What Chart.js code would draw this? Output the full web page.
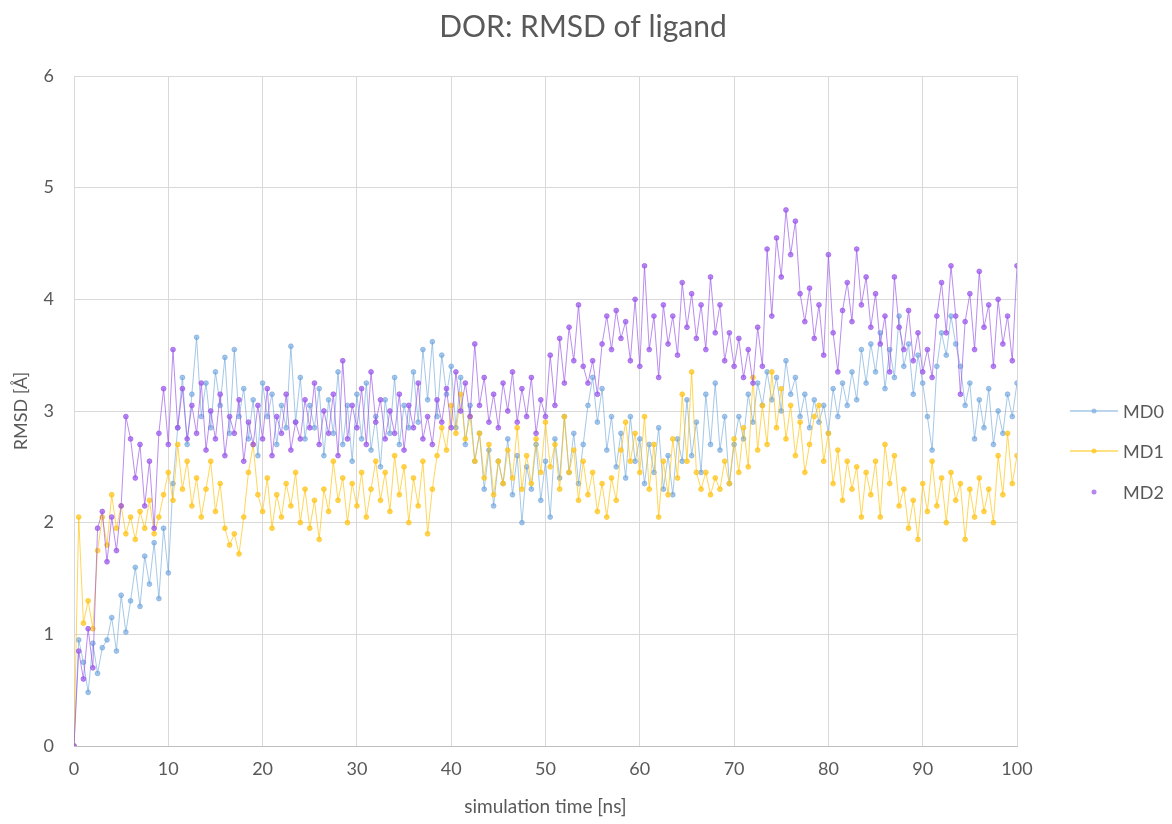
<!DOCTYPE html>
<html>
<head>
<meta charset="utf-8">
<title>DOR: RMSD of ligand</title>
<script src="https://cdn.jsdelivr.net/npm/chart.js@4.4.0/dist/chart.umd.min.js"></script>
<style>
  html, body { margin: 0; padding: 0; background: #fff; }
  #chart { display: block; }
</style>
</head>
<body>
<canvas id="chart" width="1172" height="824"></canvas>
<script>
// sampling interval of the RMSD values [ns]
const timeStep = 0.5;

// RMSD of ligand [Å], one value every 0.5 ns (0 .. 100 ns)
const md0 = [
  0, 0.95, 0.75, 0.48, 0.92, 0.65, 0.88, 0.95, 1.15, 0.85,
  1.35, 1.02, 1.30, 1.60, 1.25, 1.70, 1.45, 1.82, 1.32, 1.95,
  1.55, 2.35, 2.85, 3.30, 2.70, 3.15, 3.66, 2.95, 3.25, 2.85,
  3.35, 3.05, 3.48, 2.80, 3.55, 2.95, 3.20, 2.75, 3.10, 2.60,
  3.25, 2.95, 3.15, 2.70, 3.05, 2.85, 3.58, 2.90, 3.30, 2.75,
  3.05, 2.85, 3.20, 2.60, 3.10, 2.80, 3.35, 2.70, 3.05, 2.55,
  3.15, 2.75, 3.25, 2.65, 2.95, 2.50, 3.10, 2.80, 3.30, 2.70,
  3.05, 2.85, 3.35, 2.90, 3.55, 3.10, 3.62, 2.95, 3.50, 3.15,
  3.40, 2.85, 3.30, 2.70, 3.05, 2.55, 2.80, 2.30, 2.65, 2.15,
  2.55, 2.35, 2.75, 2.25, 2.60, 2.00, 2.50, 2.30, 2.70, 2.20,
  2.55, 2.05, 2.75, 2.40, 2.95, 2.45, 2.80, 2.35, 2.70, 3.05,
  3.30, 2.90, 3.20, 2.65, 2.95, 2.50, 2.80, 2.40, 2.95, 2.55,
  2.75, 2.35, 2.70, 2.45, 2.85, 2.30, 2.60, 2.25, 2.75, 2.55,
  3.10, 2.60, 2.90, 2.45, 3.15, 2.70, 3.25, 2.65, 2.95, 2.35,
  2.70, 2.95, 2.75, 3.15, 2.90, 3.25, 3.05, 3.35, 3.10, 3.30,
  3.00, 3.45, 3.15, 3.30, 2.95, 3.15, 2.85, 3.10, 2.90, 3.05,
  2.80, 3.20, 2.95, 3.25, 3.05, 3.35, 3.10, 3.55, 3.25, 3.60,
  3.35, 3.70, 3.20, 3.55, 3.30, 3.85, 3.40, 3.60, 3.15, 3.50,
  3.25, 2.95, 2.65, 3.40, 3.70, 3.50, 3.85, 3.60, 3.40, 3.05,
  3.25, 2.75, 3.10, 2.85, 3.20, 2.70, 3.00, 2.80, 3.15, 2.95,
  3.25
];

const md1 = [
  0, 2.05, 1.10, 1.30, 1.05, 1.75, 2.05, 1.80, 2.25, 1.95,
  2.15, 1.90, 2.05, 1.85, 2.10, 1.95, 2.20, 1.90, 2.05, 2.25,
  2.45, 2.20, 2.70, 2.30, 2.55, 2.15, 2.40, 2.05, 2.30, 2.55,
  2.10, 2.35, 1.95, 1.80, 1.90, 1.72, 2.05, 2.45, 2.70, 2.25,
  2.10, 2.40, 1.95, 2.25, 2.05, 2.35, 2.15, 2.45, 2.00, 2.30,
  1.95, 2.20, 1.85, 2.30, 2.10, 2.55, 2.20, 2.40, 2.00, 2.35,
  2.15, 2.45, 2.05, 2.30, 2.55, 2.20, 2.45, 2.10, 2.60, 2.25,
  2.50, 2.00, 2.40, 2.15, 2.55, 1.90, 2.30, 2.60, 2.85, 2.65,
  3.05, 2.80, 3.15, 2.75, 2.95, 2.55, 2.80, 2.40, 2.70, 2.25,
  2.55, 2.35, 2.65, 2.40, 2.85, 2.30, 2.60, 2.35, 2.75, 2.45,
  2.90, 2.50, 2.70, 2.30, 2.95, 2.45, 2.65, 2.20, 2.55, 2.25,
  2.45, 2.10, 2.35, 2.05, 2.40, 2.20, 2.65, 2.90, 2.55, 2.80,
  2.45, 2.95, 2.30, 2.70, 2.05, 2.55, 2.25, 2.75, 2.40, 3.15,
  2.55, 3.35, 2.45, 2.30, 2.45, 2.25, 2.40, 2.30, 2.55, 2.35,
  2.75, 2.45, 2.85, 2.50, 3.30, 2.65, 3.05, 2.70, 3.35, 2.85,
  3.20, 2.75, 3.05, 2.60, 2.90, 2.45, 2.70, 2.95, 3.05, 2.55,
  2.80, 2.35, 2.65, 2.20, 2.55, 2.30, 2.50, 2.05, 2.45, 2.25,
  2.55, 2.05, 2.70, 2.35, 2.60, 2.15, 2.30, 1.95, 2.20, 1.85,
  2.35, 2.10, 2.55, 2.15, 2.40, 2.00, 2.45, 2.20, 2.35, 1.85,
  2.30, 2.05, 2.40, 2.10, 2.30, 2.00, 2.60, 2.25, 2.80, 2.35,
  2.60
];

const md2 = [
  0, 0.85, 0.60, 1.05, 0.70, 1.95, 2.10, 1.65, 2.05, 1.75,
  2.15, 2.95, 2.75, 2.40, 2.70, 2.15, 2.55, 1.95, 2.80, 3.20,
  2.70, 3.55, 2.85, 3.20, 2.75, 3.05, 2.80, 3.25, 2.65, 3.00,
  2.75, 3.15, 2.60, 2.95, 2.80, 3.10, 2.55, 2.90, 2.70, 3.05,
  2.75, 3.20, 2.60, 2.95, 2.80, 3.15, 2.65, 2.90, 2.75, 3.10,
  2.85, 3.25, 2.70, 3.00, 2.80, 3.15, 2.60, 3.45, 2.75, 3.05,
  2.85, 3.20, 2.70, 3.35, 2.90, 3.10, 2.75, 3.00, 2.80, 3.15,
  2.65, 3.05, 2.85, 3.25, 2.75, 2.95, 2.70, 3.10, 2.90, 3.20,
  2.85, 3.35, 3.00, 3.25, 2.95, 3.60, 3.05, 3.30, 2.90, 3.15,
  2.85, 3.25, 3.00, 3.35, 2.90, 3.20, 2.95, 3.30, 2.80, 3.10,
  2.95, 3.50, 3.05, 3.65, 3.25, 3.75, 3.45, 3.95, 3.40, 3.25,
  3.45, 3.15, 3.60, 3.85, 3.55, 3.90, 3.65, 3.80, 3.45, 4.00,
  3.40, 4.30, 3.55, 3.85, 3.30, 3.95, 3.60, 3.85, 3.50, 4.15,
  3.75, 4.05, 3.65, 3.95, 3.55, 4.20, 3.70, 3.95, 3.45, 3.70,
  3.40, 3.65, 3.30, 3.55, 3.25, 3.75, 3.40, 4.45, 3.85, 4.55,
  4.20, 4.80, 4.40, 4.70, 4.05, 3.80, 4.10, 3.65, 3.95, 3.50,
  4.40, 3.70, 3.35, 3.90, 4.15, 3.80, 4.45, 3.95, 4.20, 3.75,
  4.05, 3.60, 3.85, 3.35, 4.20, 3.75, 3.55, 3.90, 3.45, 3.70,
  3.35, 3.55, 3.30, 3.85, 4.15, 3.70, 4.30, 3.85, 3.15, 3.80,
  4.05, 3.55, 4.25, 3.75, 3.95, 3.40, 4.00, 3.60, 3.85, 3.45,
  4.30
];

const seriesNames = ['MD0', 'MD1', 'MD2'];
const chartTitle = 'DOR: RMSD of ligand';
const xTicks = [0, 10, 20, 30, 40, 50, 60, 70, 80, 90, 100];
const yTicks = [0, 1, 2, 3, 4, 5, 6];

// styles
const textColor = '#595959';
const gridColor = '#d9d9d9';
const fontFamily = 'Lato, "Open Sans", sans-serif';
const lineColors = ['rgba(91, 155, 213, 0.55)', 'rgba(255, 192, 0, 0.65)', 'rgba(150, 80, 230, 0.65)'];
const pointColors = ['rgba(115, 168, 222, 0.65)', 'rgba(255, 198, 30, 0.75)', 'rgba(158, 92, 235, 0.75)'];

function toPoints(values) {
  return values.map((v, i) => ({ x: i * timeStep, y: v }));
}

const allSeries = [md0, md1, md2];

const datasets = allSeries.map((values, i) => ({
  label: seriesNames[i],
  data: toPoints(values),
  borderColor: lineColors[i],
  backgroundColor: pointColors[i],
  pointBackgroundColor: pointColors[i],
  pointBorderColor: pointColors[i],
  borderWidth: 1,
  pointRadius: 2.4,
  pointBorderWidth: 1,
  tension: 0,
  // Excel draws the last series on top
  order: allSeries.length - i
}));

// title centred on the whole canvas + legend on the right (line + marker)
const sideLegend = {
  id: 'sideLegend',
  afterDraw(chart) {
    const ctx = chart.ctx;
    const rows = [411, 451, 492];
    ctx.save();
    ctx.fillStyle = textColor;
    ctx.font = '30px ' + fontFamily;
    ctx.textAlign = 'center';
    ctx.textBaseline = 'middle';
    ctx.fillText(chartTitle, 583, 27);

    seriesNames.forEach((name, i) => {
      const y = rows[i];
      if (i < 2) {
        ctx.strokeStyle = lineColors[i];
        ctx.lineWidth = 1.5;
        ctx.beginPath();
        ctx.moveTo(1070, y);
        ctx.lineTo(1118, y);
        ctx.stroke();
      }
      ctx.fillStyle = pointColors[i];
      ctx.beginPath();
      ctx.arc(1094, y, 2.5, 0, Math.PI * 2);
      ctx.fill();
      ctx.fillStyle = textColor;
      ctx.font = '18px ' + fontFamily;
      ctx.textAlign = 'left';
      ctx.textBaseline = 'middle';
      ctx.fillText(name, 1123, y + 1);
    });
    ctx.restore();
  }
};

const ctx = document.getElementById('chart').getContext('2d');
const rmsdChart = new Chart(ctx, {
  type: 'line',
  data: { datasets: datasets },
  plugins: [sideLegend],
  options: {
    responsive: false,
    animation: false,
    layout: { padding: { left: 0, right: 155, top: 76, bottom: 0 } },
    plugins: {
      legend: { display: false },
      tooltip: { enabled: false },
      title: { display: false }
    },
    scales: {
      x: {
        type: 'linear',
        min: xTicks[0],
        max: xTicks[xTicks.length - 1],
        afterBuildTicks: (scale) => { scale.ticks = xTicks.map(v => ({ value: v })); },
        afterFit: (scale) => { scale.height = 78; },
        grid: { color: gridColor, drawTicks: false },
        border: { color: '#bfbfbf' },
        ticks: { color: textColor, font: { family: fontFamily, size: 18 }, padding: 12, maxRotation: 0 },
        title: {
          display: true,
          text: 'simulation time [ns]',
          color: textColor,
          font: { family: fontFamily, size: 19 },
          padding: { top: 4, bottom: 6 }
        }
      },
      y: {
        min: yTicks[0],
        max: yTicks[yTicks.length - 1],
        afterBuildTicks: (scale) => { scale.ticks = yTicks.map(v => ({ value: v })); },
        afterFit: (scale) => { scale.width = 74; },
        grid: { color: gridColor, drawTicks: false },
        border: { display: false },
        ticks: { color: textColor, font: { family: fontFamily, size: 18 }, padding: 20 },
        title: {
          display: true,
          text: 'RMSD [Å]',
          color: textColor,
          font: { family: fontFamily, size: 18 },
          padding: { top: 10, bottom: 4 }
        }
      }
    }
  }
});
</script>
</body>
</html>
